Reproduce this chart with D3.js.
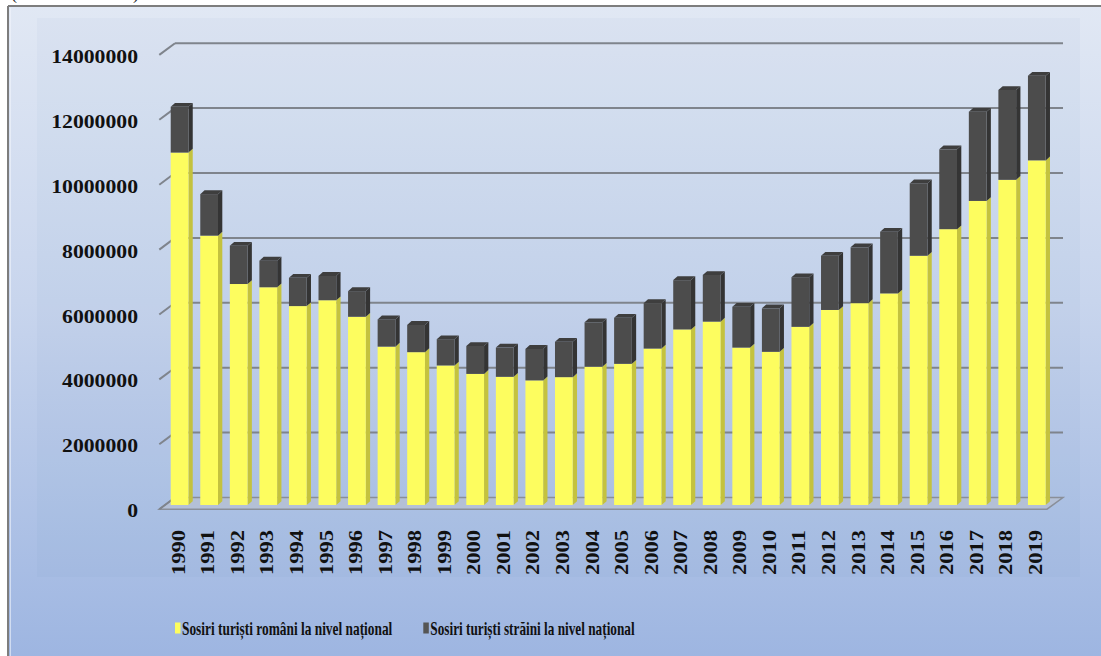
<!DOCTYPE html>
<html>
<head>
<meta charset="utf-8">
<script src="https://cdn.jsdelivr.net/npm/d3@7"></script>
<style>
  html, body { margin: 0; padding: 0; background: #ffffff; }
  svg { display: block; }
  text { font-family: "Liberation Serif", "Times New Roman", serif; font-weight: bold; fill: #111; }
</style>
</head>
<body>
<svg id="chart" width="1101" height="656"></svg>
<script>
// Sosiri turiști în structuri de primire turistică, 1990–2019
const years = [1990, 1991, 1992, 1993, 1994, 1995, 1996, 1997, 1998, 1999,
               2000, 2001, 2002, 2003, 2004, 2005, 2006, 2007, 2008, 2009,
               2010, 2011, 2012, 2013, 2014, 2015, 2016, 2017, 2018, 2019];

// turiști români
const romani = [10860000, 8300000, 6810000, 6710000, 6130000, 6310000, 5800000, 4880000, 4710000, 4300000,
                4040000, 3950000, 3840000, 3940000, 4260000, 4350000, 4820000, 5410000, 5650000, 4850000,
                4720000, 5490000, 6010000, 6220000, 6520000, 7680000, 8500000, 9370000, 10020000, 10620000];

// turiști străini
const straini = [1410000, 1280000, 1180000, 820000, 870000, 750000, 790000, 840000, 840000, 810000,
                 860000, 900000, 970000, 1090000, 1370000, 1420000, 1400000, 1520000, 1440000, 1260000,
                 1340000, 1530000, 1670000, 1720000, 1900000, 2230000, 2460000, 2750000, 2770000, 2610000];

const yTicks = [0, 2000000, 4000000, 6000000, 8000000, 10000000, 12000000, 14000000];

const seriesNames = ["Sosiri turiști români la nivel național", "Sosiri turiști străini la nivel național"];

const svg = d3.select("#chart");
const W = 1101, H = 656;

// squeeze a text horizontally to a given width, anchored at its start
function fitWidth(sel, width) {
  sel.each(function () {
    const t = d3.select(this);
    const natural = this.getComputedTextLength();
    const x0 = +t.attr("x"), y0 = +t.attr("y");
    t.attr("x", 0).attr("y", 0)
     .attr("transform", `translate(${x0},${y0}) scale(${width / natural},1)`);
  });
}

// background gradient
const defs = svg.append("defs");
const bg = defs.append("linearGradient").attr("id", "bg").attr("x1", 0).attr("y1", 0).attr("x2", 0).attr("y2", 1);
bg.append("stop").attr("offset", "0%").attr("stop-color", "#e1e8f4");
bg.append("stop").attr("offset", "45%").attr("stop-color", "#c8d5ed");
bg.append("stop").attr("offset", "100%").attr("stop-color", "#9db5e1");

svg.append("rect").attr("x", 0).attr("y", 0).attr("width", W).attr("height", H).attr("fill", "#ffffff");
svg.append("rect").attr("x", 8).attr("y", 6).attr("width", W).attr("height", H).attr("fill", "url(#bg)");
// plot-area panel
svg.append("rect").attr("x", 37).attr("y", 18).attr("width", 1043).attr("height", 559)
  .attr("fill", "rgba(70,100,160,0.035)");
// chart border
svg.append("line").attr("x1", 8).attr("y1", 6).attr("x2", 8).attr("y2", H).attr("stroke", "#7d7d7d").attr("stroke-width", 2);
svg.append("line").attr("x1", 8).attr("y1", 6).attr("x2", W).attr("y2", 6).attr("stroke", "#7d7d7d").attr("stroke-width", 2);
svg.append("line").attr("x1", 10.5).attr("y1", 8).attr("x2", 10.5).attr("y2", H).attr("stroke", "#f2f5fb").attr("stroke-opacity", 0.6).attr("stroke-width", 1);

// heading above the frame, mostly outside the visible area
svg.append("text").attr("x", 11).attr("y", -1).style("font-size", "18px").style("font-weight", "normal").text("(");
svg.append("text").attr("x", 133).attr("y", -1).style("font-size", "18px").style("font-weight", "normal").text(")");

// scales
const x = d3.scaleBand().domain(years).range([164.8, 1051.6]).paddingInner(0.4).paddingOuter(0.2);
const yBar = d3.scaleLinear().domain([0, 14000000]).range([505, 505 - 14 * 32.45]);   // bar front plane
const yWall = d3.scaleLinear().domain([0, 14000000]).range([497.5, 497.5 - 14 * 32.45]); // back wall
const yFront = d3.scaleLinear().domain([0, 14000000]).range([509.2, 509.2 - 14 * 32.45]); // front edge

const wallX0 = 175, wallX1 = 1063, frontX0 = 159.3, frontX1 = 1047;

// floor
svg.append("path")
  .attr("d", `M${frontX0},${yFront(0)} L${wallX0},${yWall(0)} L${wallX1},${yWall(0)} L${frontX1},${yFront(0)} Z`)
  .attr("fill", "#b4c0d6").attr("stroke", "#8a8f99").attr("stroke-width", 1.5);

// gridlines on the back wall and side wall
const grid = svg.append("g");
grid.selectAll("line.g").data(yTicks.slice(1)).join("line")
  .attr("x1", wallX0).attr("x2", wallX1)
  .attr("y1", d => yWall(d)).attr("y2", d => yWall(d))
  .attr("stroke", "#7f848c").attr("stroke-width", 2);
grid.selectAll("line.s").data(yTicks).join("line")
  .attr("x1", frontX0).attr("x2", wallX0)
  .attr("y1", d => yFront(d)).attr("y2", d => yWall(d))
  .attr("stroke", "#7f848c").attr("stroke-width", 2);

// y axis labels
const yAxis = svg.append("g").attr("transform", "translate(146,1.5)")
  .call(d3.axisLeft(yFront).tickValues(yTicks).tickSize(0).tickPadding(8).tickFormat(d3.format("d")));
yAxis.select(".domain").remove();
yAxis.selectAll("text")
  .attr("font-family", null).attr("font-size", null)
  .style("font-size", "19px")
  .attr("textLength", d => String(d).length * 10.85)
  .attr("lengthAdjust", "spacingAndGlyphs");

// stacked 3D columns
const dx = 4.3, dy = -3.8;
const stacks = years.map((yr, i) => ({
  year: yr,
  segs: [
    { y0: 0, y1: romani[i], front: "#fdfd5f", side: "#c4c23e", top: "#e8e65a" },
    { y0: romani[i], y1: romani[i] + straini[i], front: "#4c4c4c", side: "#343434", top: "#3e3e3e" }
  ]
}));

const bars = svg.append("g");
stacks.forEach(s => {
  const x0 = x(s.year), w = x.bandwidth();
  s.segs.forEach((seg, k) => {
    const yt = yBar(seg.y1), yb = yBar(seg.y0);
    // side face
    bars.append("path")
      .attr("d", `M${x0 + w},${yb} L${x0 + w + dx},${yb + dy} L${x0 + w + dx},${yt + dy} L${x0 + w},${yt} Z`)
      .attr("fill", seg.side);
    // front face
    bars.append("rect").attr("x", x0).attr("y", yt).attr("width", w).attr("height", yb - yt).attr("fill", seg.front);
    // top face on the upper segment
    if (k === s.segs.length - 1) {
      bars.append("path")
        .attr("d", `M${x0},${yt} L${x0 + dx},${yt + dy} L${x0 + w + dx},${yt + dy} L${x0 + w},${yt} Z`)
        .attr("fill", seg.top);
    }
  });
});

// year labels, rotated
svg.append("g").selectAll("text").data(years).join("text")
  .attr("transform", d => `translate(${x(d) + x.bandwidth() / 2 - 1.5},530) rotate(-90)`)
  .attr("text-anchor", "end")
  .attr("dy", "0.35em")
  .style("font-size", "19px")
  .attr("textLength", 45)
  .attr("lengthAdjust", "spacingAndGlyphs")
  .text(d => d);

// legend
const legend = [
  { name: seriesNames[0], color: "#fdfd5f", x: 175, len: 210.6 },
  { name: seriesNames[1], color: "#555555", x: 423.3, len: 204.6 }
];
const lg = svg.append("g").selectAll("g").data(legend).join("g");
lg.append("rect").attr("x", d => d.x).attr("y", 622.5).attr("width", 5.5).attr("height", 11).attr("fill", d => d.color);
lg.append("text").attr("x", d => d.x + 7).attr("y", 635)
  .style("font-size", "18.5px")
  .text(d => d.name)
  .each(function (d) { fitWidth(d3.select(this), d.len); });
</script>
</body>
</html>
